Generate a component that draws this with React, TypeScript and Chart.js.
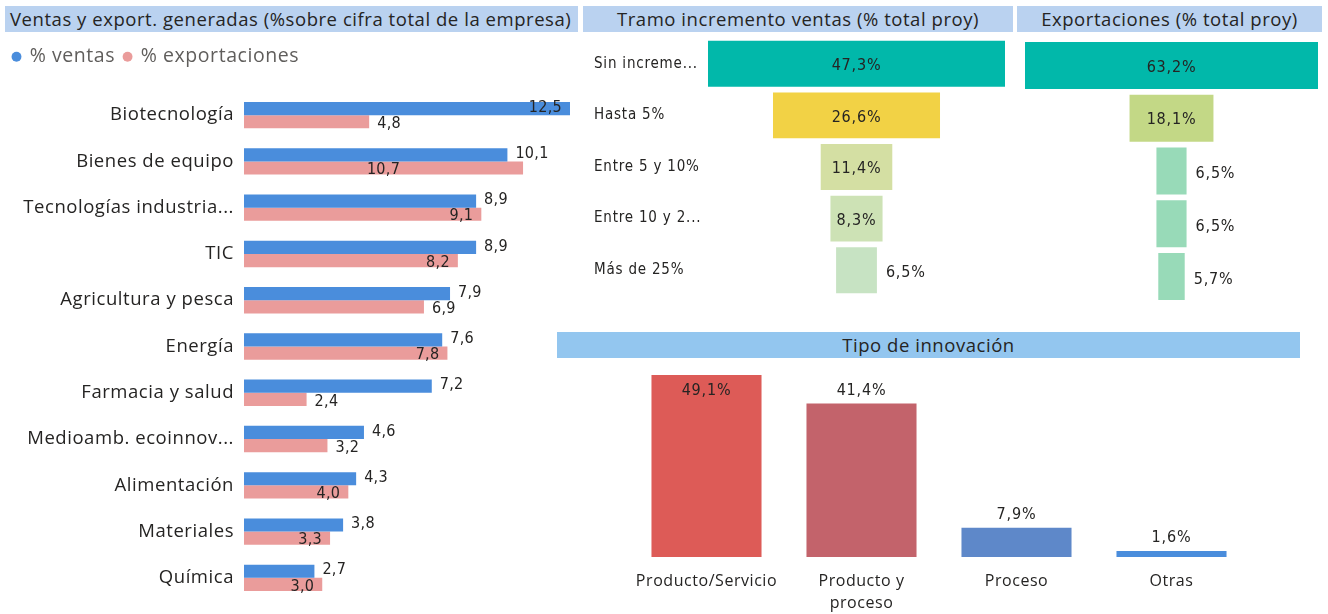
import React, { useEffect, useRef } from "react";
import { Chart, registerables } from "chart.js";
Chart.register(...registerables);

const sectorLabels = [
  "Biotecnología",
  "Bienes de equipo",
  "Tecnologías industria...",
  "TIC",
  "Agricultura y pesca",
  "Energía",
  "Farmacia y salud",
  "Medioamb. ecoinnov...",
  "Alimentación",
  "Materiales",
  "Química",
];
const ventasValues = [12.5, 10.1, 8.9, 8.9, 7.9, 7.6, 7.2, 4.6, 4.3, 3.8, 2.7];
const exportValues = [4.8, 10.7, 9.1, 8.2, 6.9, 7.8, 2.4, 3.2, 4.0, 3.3, 3.0];

const tramoLabels = ["Sin increme...", "Hasta 5%", "Entre 5 y 10%", "Entre 10 y 2...", "Más de 25%"];
const tramoValues = [47.3, 26.6, 11.4, 8.3, 6.5];
const tramoColors = ["#01b8aa", "#f2d245", "#d4dfa3", "#cde2b5", "#c7e3c3"];

const exportTramoValues = [63.2, 18.1, 6.5, 6.5, 5.7];
const exportTramoColors = ["#01b8aa", "#c3d886", "#98dab8", "#98dab8", "#98dab8"];

const innovLabels = [["Producto/Servicio"], ["Producto y", "proceso"], ["Proceso"], ["Otras"]];
const innovValues = [49.1, 41.4, 7.9, 1.6];
const innovColors = ["#dd5b57", "#c3636b", "#5e88c9", "#4a8ddc"];

const SEGOE = "'Segoe UI', 'Open Sans', sans-serif";
const DIN = "'DejaVu Sans Condensed', 'Liberation Sans Narrow', sans-serif";
const TEXT = "#252423";

const fmt = (v: number) => v.toFixed(1).replace(".", ",");

const spacingPlugin = (px: string) => ({
  id: "spacing",
  beforeUpdate(c: any) {
    c.ctx.letterSpacing = px;
  },
  beforeDraw(c: any) {
    c.ctx.letterSpacing = px;
  },
});

const legendHeightPlugin = (h: number) => ({
  id: "legendHeight",
  afterInit(chart: any) {
    const lg = chart.legend;
    if (!lg) return;
    const orig = lg.fit.bind(lg);
    lg.fit = () => {
      orig();
      lg.height = h;
    };
  },
});

const leftLabelsPlugin = {
  id: "leftLabels",
  afterDatasetsDraw(chart: any) {
    const ctx = chart.ctx;
    const area = chart.chartArea;
    ctx.save();
    ctx.letterSpacing = "0.3px";
    ctx.font = `16px ${DIN}`;
    ctx.fillStyle = TEXT;
    ctx.textBaseline = "middle";
    ctx.textAlign = "left";
    const m0 = chart.getDatasetMeta(0);
    const m1 = chart.getDatasetMeta(1);
    const pad = 8;
    m0.data.forEach((b0: any, i: number) => {
      const b1 = m1.data[i];
      const t0 = fmt(ventasValues[i]);
      const w0 = ctx.measureText(t0).width;
      let x0 = b0.x + pad;
      if (x0 + w0 > area.right) x0 = b0.x - pad - w0;
      ctx.fillText(t0, x0, b0.y - 1);
      const s0 = x0;
      const e0 = x0 + w0;
      const t1 = fmt(exportValues[i]);
      const w1 = ctx.measureText(t1).width;
      const overlaps = (s: number) => s < e0 + 2 && s + w1 > s0 - 2;
      let x1 = b1.x + pad;
      if (x1 + w1 > area.right || overlaps(x1)) {
        x1 = b1.x - pad - w1;
        if (overlaps(x1)) x1 = (b1.base + b1.x) / 2 - w1 / 2;
      }
      ctx.fillText(t1, x1, b1.y + 2);
    });
    ctx.restore();
  },
};

const funnelLabelsPlugin = (values: number[]) => ({
  id: "funnelLabels",
  afterDatasetsDraw(chart: any) {
    const ctx = chart.ctx;
    ctx.save();
    ctx.letterSpacing = "0.8px";
    ctx.font = `16px ${DIN}`;
    ctx.fillStyle = TEXT;
    ctx.textBaseline = "middle";
    chart.getDatasetMeta(0).data.forEach((b: any, i: number) => {
      const t = fmt(values[i]) + "%";
      const w = ctx.measureText(t).width;
      const left = Math.min(b.x, b.base);
      const right = Math.max(b.x, b.base);
      const bw = right - left;
      if (w + 8 <= bw) {
        ctx.textAlign = "center";
        ctx.fillText(t, (left + right) / 2, b.y + 2);
      } else {
        ctx.textAlign = "left";
        ctx.fillText(t, right + 9, b.y + 3);
      }
    });
    ctx.restore();
  },
});

const innovLabelsPlugin = {
  id: "innovLabels",
  afterDatasetsDraw(chart: any) {
    const ctx = chart.ctx;
    ctx.save();
    ctx.letterSpacing = "0.8px";
    ctx.font = `16px ${DIN}`;
    ctx.fillStyle = TEXT;
    ctx.textAlign = "center";
    chart.getDatasetMeta(0).data.forEach((b: any, i: number) => {
      const t = fmt(innovValues[i]) + "%";
      if (b.y - 24 < 0) {
        ctx.textBaseline = "top";
        ctx.fillText(t, b.x, b.y + 8);
      } else {
        ctx.textBaseline = "bottom";
        ctx.fillText(t, b.x, b.y - 5);
      }
    });
    ctx.restore();
  },
};

function useChart(ref: React.RefObject<HTMLCanvasElement>, make: () => any) {
  useEffect(() => {
    if (!ref.current) return;
    const chart = new Chart(ref.current, make());
    return () => chart.destroy();
  }, []);
}

const headerStyle = (left: number, top: number, width: number, bg: string, align: "left" | "center"): React.CSSProperties => ({
  position: "absolute",
  left,
  top,
  width,
  height: 26,
  background: bg,
  color: TEXT,
  fontFamily: SEGOE,
  fontSize: 18.5,
  letterSpacing: "0.55px",
  lineHeight: "26px",
  textAlign: align,
  paddingLeft: align === "left" ? 5 : 0,
  boxSizing: "border-box",
  whiteSpace: "nowrap",
  overflow: "hidden",
});

export default function App() {
  const leftRef = useRef<HTMLCanvasElement>(null);
  const tramoRef = useRef<HTMLCanvasElement>(null);
  const expRef = useRef<HTMLCanvasElement>(null);
  const innovRef = useRef<HTMLCanvasElement>(null);

  useChart(leftRef, () => ({
    type: "bar",
    data: {
      labels: sectorLabels,
      datasets: [
        { label: "% ventas", data: ventasValues, backgroundColor: "#4a8ddc", barPercentage: 1, categoryPercentage: 0.57 },
        { label: "% exportaciones", data: exportValues, backgroundColor: "#ea9c9b", barPercentage: 1, categoryPercentage: 0.57 },
      ],
    },
    options: {
      indexAxis: "y",
      animation: false,
      responsive: false,
      layout: { padding: { left: 4, right: 10, bottom: 13 } },
      plugins: {
        legend: {
          display: true,
          position: "top",
          align: "start",
          labels: {
            usePointStyle: true,
            pointStyle: "circle",
            boxWidth: 7,
            boxHeight: 7,
            color: "#605e5c",
            font: { family: SEGOE, size: 19.5 },
            padding: 9,
          },
        },
        tooltip: { enabled: false },
      },
      scales: {
        x: { display: false, min: 0, max: 12.5 },
        y: {
          grid: { display: false, drawTicks: false },
          border: { display: false },
          ticks: { color: TEXT, font: { family: SEGOE, size: 18.5 }, padding: 10 },
          afterFit: (s: any) => {
            s.width = 240;
            s.paddingTop = 0;
            s.paddingBottom = 0;
          },
        },
      },
    },
    plugins: [spacingPlugin("0.55px"), legendHeightPlugin(54), leftLabelsPlugin],
  }));

  useChart(tramoRef, () => ({
    type: "bar",
    data: {
      labels: tramoLabels,
      datasets: [
        {
          data: tramoValues.map((v) => [-v / 2, v / 2]),
          backgroundColor: tramoColors,
          barPercentage: 0.89,
          categoryPercentage: 1,
        },
      ],
    },
    options: {
      indexAxis: "y",
      animation: false,
      responsive: false,
      layout: { padding: { left: 9, right: 10 } },
      plugins: { legend: { display: false }, tooltip: { enabled: false } },
      scales: {
        x: { display: false, min: -Math.max(...tramoValues) / 2, max: Math.max(...tramoValues) / 2 },
        y: {
          grid: { display: false, drawTicks: false },
          border: { display: false },
          ticks: { color: TEXT, font: { family: DIN, size: 15 }, crossAlign: "far", padding: 10 },
          afterFit: (s: any) => {
            s.width = 114;
            s.paddingTop = 0;
            s.paddingBottom = 0;
          },
        },
      },
    },
    plugins: [spacingPlugin("0.8px"), funnelLabelsPlugin(tramoValues)],
  }));

  useChart(expRef, () => ({
    type: "bar",
    data: {
      labels: tramoLabels,
      datasets: [
        {
          data: exportTramoValues.map((v) => [-v / 2, v / 2]),
          backgroundColor: exportTramoColors,
          barPercentage: 0.89,
          categoryPercentage: 1,
        },
      ],
    },
    options: {
      indexAxis: "y",
      animation: false,
      responsive: false,
      layout: { padding: { left: 5, right: 7 } },
      plugins: { legend: { display: false }, tooltip: { enabled: false } },
      scales: {
        x: { display: false, min: -Math.max(...exportTramoValues) / 2, max: Math.max(...exportTramoValues) / 2 },
        y: { display: false },
      },
    },
    plugins: [funnelLabelsPlugin(exportTramoValues)],
  }));

  useChart(innovRef, () => ({
    type: "bar",
    data: {
      labels: innovLabels,
      datasets: [
        {
          data: innovValues,
          backgroundColor: innovColors,
          barPercentage: 0.71,
          categoryPercentage: 1,
        },
      ],
    },
    options: {
      animation: false,
      responsive: false,
      layout: { padding: { left: 74, right: 56, top: 15 } },
      plugins: { legend: { display: false }, tooltip: { enabled: false } },
      scales: {
        y: { display: false, min: 0, max: Math.max(...innovValues) },
        x: {
          grid: { display: false, drawTicks: false },
          border: { display: false },
          ticks: { color: TEXT, font: { family: SEGOE, size: 16, lineHeight: 1.4 }, padding: 13, maxRotation: 0 },
          afterFit: (s: any) => {
            s.height = 57;
            s.paddingLeft = 0;
            s.paddingRight = 0;
          },
        },
      },
    },
    plugins: [spacingPlugin("0.55px"), innovLabelsPlugin],
  }));

  return (
    <div style={{ position: "absolute", left: 0, top: 0, width: 1328, height: 614, background: "#ffffff", overflow: "hidden" }}>
      <div style={headerStyle(5, 6, 573, "#bad2f0", "left")}>Ventas y export. generadas (%sobre cifra total de la empresa)</div>
      <div style={headerStyle(583, 6, 430, "#bad2f0", "center")}>Tramo incremento ventas (% total proy)</div>
      <div style={headerStyle(1017, 6, 305, "#bad2f0", "center")}>Exportaciones (% total proy)</div>
      <div style={headerStyle(557, 332, 743, "#93c6ef", "center")}>Tipo de innovación</div>
      <canvas ref={leftRef} width={580} height={576} style={{ position: "absolute", left: 0, top: 38 }} />
      <canvas ref={tramoRef} width={430} height={258} style={{ position: "absolute", left: 585, top: 38 }} />
      <canvas ref={expRef} width={305} height={264} style={{ position: "absolute", left: 1020, top: 39 }} />
      <canvas ref={innovRef} width={750} height={254} style={{ position: "absolute", left: 555, top: 360 }} />
    </div>
  );
}
